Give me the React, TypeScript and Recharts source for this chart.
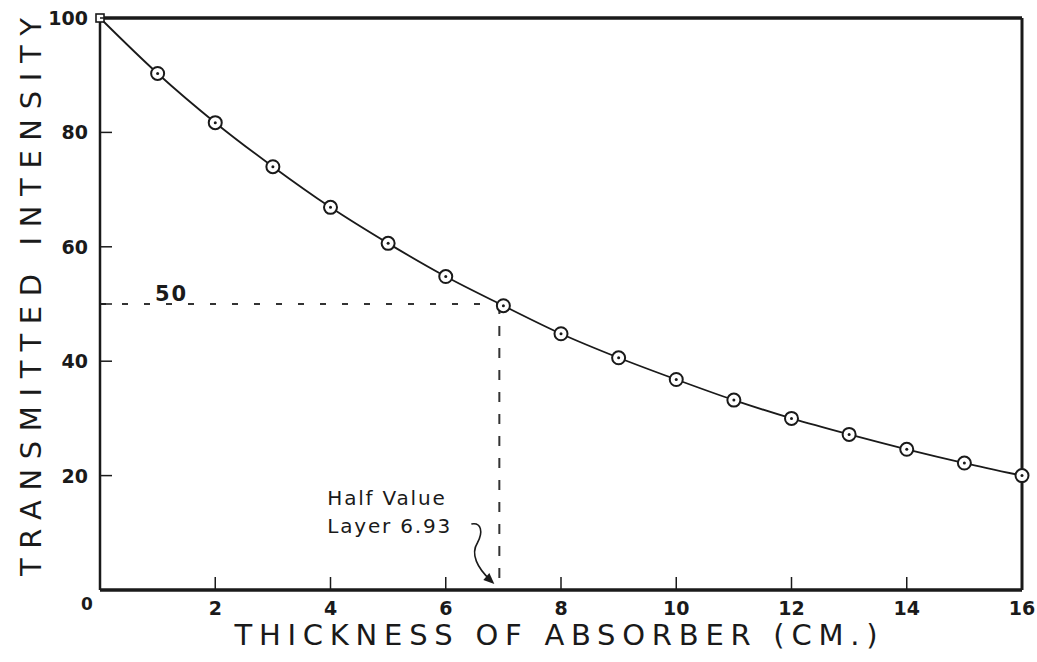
import React from 'react';
import {
  ComposedChart,
  Line,
  XAxis,
  YAxis,
  ReferenceLine,
  ReferenceDot,
} from 'recharts';

// absorber thickness (cm) and transmitted intensity readings
const thickness = [0, 1, 2, 3, 4, 5, 6, 7, 8, 9, 10, 11, 12, 13, 14, 15, 16];
const intensity = [100, 90.3, 81.7, 74.0, 66.9, 60.6, 54.8, 49.7, 44.8, 40.6, 36.8, 33.2, 30.0, 27.2, 24.6, 22.2, 20.0];

const xTicks = [0, 2, 4, 6, 8, 10, 12, 14, 16];
const yTicks = [0, 20, 40, 50, 60, 80, 100];

const halfValue = 50;
const halfValueLayer = 6.93;

const data = thickness.map((t, i) => ({ t, v: intensity[i] }));

const ink = '#1a1a1a';
const tickFont = '"DejaVu Sans", sans-serif';
const titleFont = '"DejaVu Sans", sans-serif';
const noteFont = '"DejaVu Sans", sans-serif';

const XTick = (props: any) => {
  const { x, y, payload } = props;
  const v = payload.value;
  if (v === 0) {
    return (
      <text x={x - 13} y={y + 20} fontFamily={tickFont} fontWeight="bold" fontSize={17} fill={ink} textAnchor="middle">
        0
      </text>
    );
  }
  return (
    <g>
      {v !== 16 && <line x1={x} y1={y} x2={x} y2={y - 13} stroke={ink} strokeWidth={1.5} />}
      <text x={x} y={y + 25} fontFamily={tickFont} fontWeight="bold" fontSize={19} fill={ink} textAnchor="middle">
        {v}
      </text>
    </g>
  );
};

const YTick = (props: any) => {
  const { x, y, payload } = props;
  const v = payload.value;
  if (v === 0) return <g />;
  return (
    <g>
      <line x1={x} y1={y} x2={x + 12} y2={y} stroke={ink} strokeWidth={1.5} />
      {v !== 50 && (
        <text x={x - 12} y={y + 7} fontFamily={tickFont} fontWeight="bold" fontSize={19} fill={ink} textAnchor="end">
          {v}
        </text>
      )}
    </g>
  );
};

const Marker = (props: any) => {
  const { cx, cy, index } = props;
  if (index === 0) {
    return <rect key={index} x={cx - 4} y={cy - 4} width={8} height={8} fill="#fff" stroke={ink} strokeWidth={1.6} />;
  }
  return (
    <g key={index}>
      <circle cx={cx} cy={cy} r={6.5} fill="#fff" stroke={ink} strokeWidth={2} />
      <circle cx={cx} cy={cy} r={1.5} fill={ink} />
    </g>
  );
};

// annotation text and curved arrow pointing at the half value layer
const HalfValueNote = (props: any) => {
  const { cx, cy } = props;
  return (
    <g>
      <text x={cx - 172} y={cy - 85} fontFamily={noteFont} fontSize={20} letterSpacing={1.8} fill={ink}>
        Half Value
      </text>
      <text x={cx - 172} y={cy - 57} fontFamily={noteFont} fontSize={20} letterSpacing={1.8} fill={ink}>
        Layer 6.93
      </text>
      <path
        d={`M ${cx - 28} ${cy - 66} C ${cx - 18} ${cy - 68}, ${cx - 16} ${cy - 58}, ${cx - 22} ${cy - 47} C ${cx - 29} ${cy - 36}, ${cx - 22} ${cy - 22}, ${cx - 9} ${cy - 10}`}
        fill="none"
        stroke={ink}
        strokeWidth={1.6}
      />
      <path d={`M ${cx - 5} ${cy - 6} L ${cx - 16} ${cy - 10} L ${cx - 10} ${cy - 17} Z`} fill={ink} />
    </g>
  );
};

const XTitle = (props: any) => {
  const { viewBox } = props;
  const cx = viewBox.x + viewBox.width / 2;
  return (
    <text
      x={cx - 5}
      y={645}
      fontFamily={titleFont}
      fontSize={29}
      fill={ink}
      textAnchor="middle"
      textLength={643}
      lengthAdjust="spacing"
    >
      THICKNESS OF ABSORBER (CM.)
    </text>
  );
};

const YTitle = () => (
  <text
    x={0}
    y={0}
    transform="translate(41 297) rotate(-90)"
    fontFamily={titleFont}
    fontSize={29}
    fill={ink}
    textAnchor="middle"
    textLength={558}
    lengthAdjust="spacing"
  >
    TRANSMITTED INTENSITY
  </text>
);

export default function App() {
  return (
    <div style={{ position: 'absolute', left: 0, top: 0, width: 1037, height: 662, background: '#fff' }}>
      <ComposedChart width={1037} height={662} data={data} margin={{ top: 18, right: 15, bottom: 42, left: 0 }}>
        <XAxis
          dataKey="t"
          type="number"
          domain={[0, 16]}
          ticks={xTicks}
          interval={0}
          height={30}
          tickSize={0}
          tickMargin={0}
          tickLine={false}
          tick={<XTick />}
          axisLine={{ stroke: ink, strokeWidth: 3.5 }}
          label={{ content: <XTitle /> }}
        />
        <YAxis
          type="number"
          domain={[0, 100]}
          ticks={yTicks}
          interval={0}
          width={100}
          tickSize={0}
          tickMargin={0}
          tickLine={false}
          tick={<YTick />}
          axisLine={{ stroke: ink, strokeWidth: 2.5 }}
          label={{ content: <YTitle /> }}
        />
        <ReferenceLine y={100} stroke={ink} strokeWidth={3.5} />
        <ReferenceLine x={16} stroke={ink} strokeWidth={3} />
        <ReferenceLine
          segment={[{ x: 0, y: halfValue }, { x: halfValueLayer, y: halfValue }]}
          stroke="#333"
          strokeWidth={2}
          strokeDasharray="6 16"
          label={{ value: '50', position: 'insideLeft', dx: 50, dy: -10, fill: ink, fontSize: 21, fontWeight: 600, letterSpacing: 2, fontFamily: tickFont }}
        />
        <ReferenceLine
          segment={[{ x: halfValueLayer, y: halfValue }, { x: halfValueLayer, y: 0 }]}
          stroke="#333"
          strokeWidth={2}
          strokeDasharray="10 12"
        />
        <Line
          type="monotone"
          dataKey="v"
          stroke={ink}
          strokeWidth={1.8}
          dot={<Marker />}
          activeDot={false}
          isAnimationActive={false}
        />
        <ReferenceDot x={halfValueLayer} y={0} r={0} shape={<HalfValueNote />} />
      </ComposedChart>
    </div>
  );
}
